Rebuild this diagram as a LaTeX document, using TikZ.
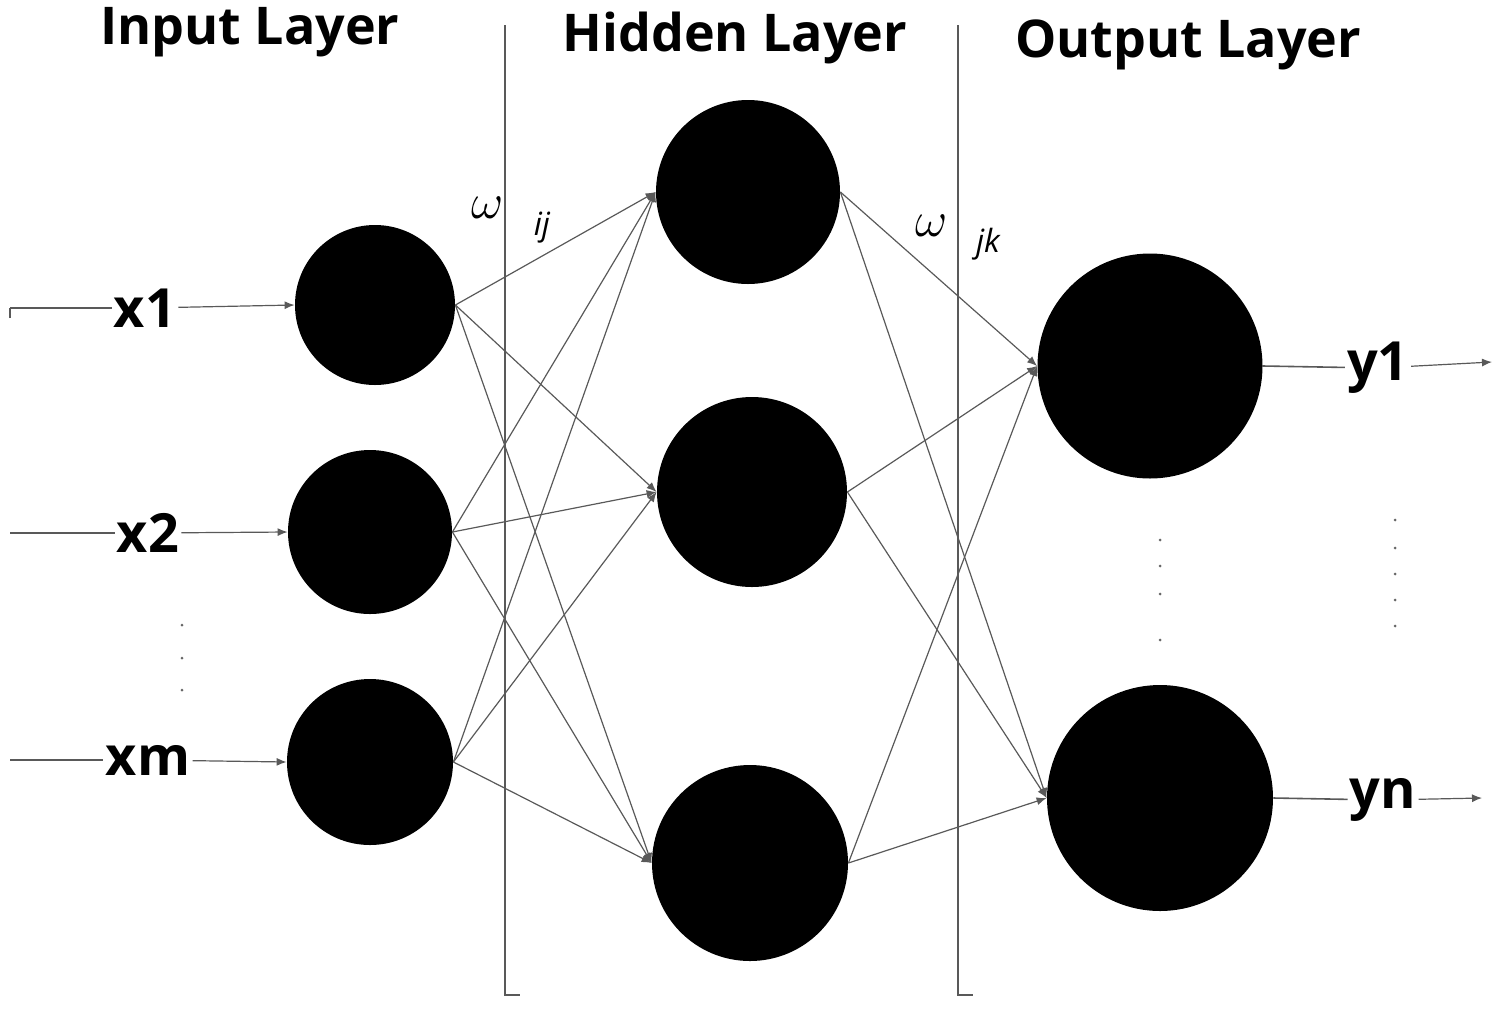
\documentclass[tikz,border=0pt]{standalone}
\usepackage{fontspec}
\setmainfont{Open Sans}
\usetikzlibrary{arrows.meta}
\begin{document}
\begin{tikzpicture}[x=0.5pt,y=-0.5pt,
  neuron/.style={circle,fill=black,inner sep=0pt,minimum size=#1*0.5pt},
  conn/.style={draw=black!65,line width=0.6pt,-{Latex[length=5pt,width=4pt]}},
  lab/.style={font=\bfseries\fontsize{27}{29}\selectfont,inner sep=1pt},
  title/.style={font=\bfseries\fontsize{26}{28}\selectfont},
  dot/.style={circle,fill=black!60,inner sep=0pt,minimum size=1.5pt}]
\useasboundingbox (0,0) rectangle (1503,1018);
% layer separators
\draw[black!65,line width=0.8pt] (505,25) -- (505,995) -- (520,995);
\draw[black!65,line width=0.8pt] (958,25) -- (958,995) -- (973,995);
% titles
\node[title] (t1) at (250,32) {Input Layer};
\node[title] (t2) at (735,38) {Hidden Layer};
\node[title] (t3) at (1188,45) {Output Layer};
% neurons
\node[neuron=160] (i1) at (375,305) {};
\node[neuron=164] (i2) at (370,532) {};
\node[neuron=166] (i3) at (370,762) {};
\node[neuron=184] (h1) at (748,192) {};
\node[neuron=190] (h2) at (752,492) {};
\node[neuron=196] (h3) at (750,863) {};
\node[neuron=225] (o1) at (1150,366) {};
\node[neuron=226] (o2) at (1160,798) {};
% connections
\foreach \a in {i1,i2,i3}{\foreach \b in {h1,h2,h3}{\draw[conn] (\a.east) -- (\b.west);}}
\foreach \a in {h1,h2,h3}{\foreach \b in {o1,o2}{\draw[conn] (\a.east) -- (\b.west);}}
% weights
\node[font=\itshape\fontsize{26}{28}\selectfont] (w1) at (488,208) {$\omega$};
\node[font=\itshape\fontsize{16}{18}\selectfont] (w1s) at (542,228) {ij};
\node[font=\itshape\fontsize{26}{28}\selectfont] (w2) at (932,226) {$\omega$};
\node[font=\itshape\fontsize{16}{18}\selectfont] (w2s) at (988,244) {jk};
% inputs
\coordinate (s1) at (10,308); \coordinate (s2) at (10,533); \coordinate (s3) at (10,760);
\draw[black!65,line width=0.8pt] (10,318) -- (s1);
\node[lab] (x1) at (145,308) {x1};
\node[lab] (x2) at (148,533) {x2};
\node[lab] (xm) at (148,760) {xm};
\draw[black!65,line width=0.8pt] (s1) -- (x1);
\draw[black!65,line width=0.8pt] (s2) -- (x2);
\draw[black!65,line width=0.8pt] (s3) -- (xm);
\draw[conn] (x1) -- (i1.west);
\draw[conn] (x2) -- (i2.west);
\draw[conn] (xm) -- (i3.west);
\foreach \y in {625,658,690} \node[dot] at (182,\y) {};
% outputs
\node[lab] (y1) at (1378,368) {y1};
\node[lab] (yn) at (1383,800) {yn};
\coordinate (e1) at (1492,362); \coordinate (e2) at (1482,798);
\draw[black!65,line width=0.8pt] (o1.east) -- (y1);
\draw[black!65,line width=0.8pt] (o2.east) -- (yn);
\draw[conn] (y1) -- (e1);
\draw[conn] (yn) -- (e2);
\foreach \y in {540,566,594,640} \node[dot] at (1160,\y) {};
\foreach \y in {520,548,574,600,626} \node[dot] at (1395,\y) {};
\end{tikzpicture}
\end{document}
